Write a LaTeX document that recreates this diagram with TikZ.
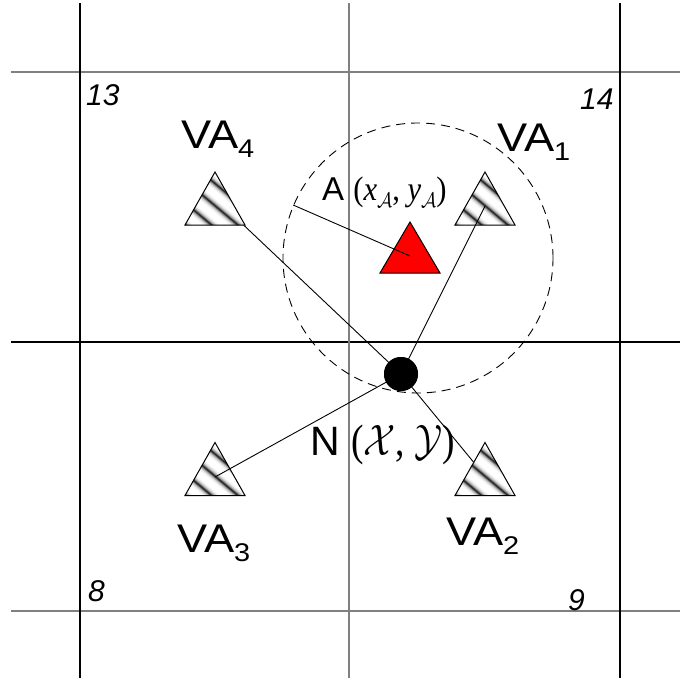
\RequirePackage{fix-cm}
\documentclass[tikz,border=0pt]{standalone}
\usepackage[no-math]{fontspec}
\setmainfont{Liberation Serif}
\setsansfont{Liberation Sans}
\newcommand\lowsub[1]{\raisebox{-0.24em}{\scalebox{0.64}{#1}}}
\newcommand\calsub[1]{\raisebox{-0.22em}{\scalebox{0.62}{$\mathcal{#1}$}}}
\tikzset{
  stripe/.style={line cap=butt},
  vatri/.pic={
    \fill[white] (0,-26.5) -- (30,26.5) -- (-30,26.5) -- cycle;
    \begin{scope}
      \clip (0,-26.5) -- (30,26.5) -- (-30,26.5) -- cycle;
      \foreach \d in {-28.5,-11.5,5.5,22.5,39.5}{
        \draw[stripe,line width=10pt,black!6] ({-0.643*\d-50},{0.766*\d-42}) -- ({-0.643*\d+50},{0.766*\d+42});
        \draw[stripe,line width=7pt,black!18] ({-0.643*\d-50},{0.766*\d-42}) -- ({-0.643*\d+50},{0.766*\d+42});
        \draw[stripe,line width=4.5pt,black!38] ({-0.643*\d-50},{0.766*\d-42}) -- ({-0.643*\d+50},{0.766*\d+42});
        \draw[stripe,line width=2.5pt,black!62] ({-0.643*\d-50},{0.766*\d-42}) -- ({-0.643*\d+50},{0.766*\d+42});
        \draw[stripe,line width=1pt,black!85] ({-0.643*\d-50},{0.766*\d-42}) -- ({-0.643*\d+50},{0.766*\d+42});
      }
    \end{scope}
    \draw[line width=1pt,line join=miter] (0,-26.5) -- (30,26.5) -- (-30,26.5) -- cycle;
  },
  redtri/.pic={
    \filldraw[fill=red,draw=black,line width=1pt,line join=miter] (0,-25.5) -- (30,25.5) -- (-30,25.5) -- cycle;
  }
}
\begin{document}
\begin{tikzpicture}[x=1pt,y=-1pt,
  gridblack/.style={line width=1.3pt,draw=black},
  gridgray/.style={line width=1.3pt,draw=black!50},
  conn/.style={line width=0.9pt},
  valabel/.style={font=\sffamily\fontsize{40}{40}\selectfont,inner sep=0pt,anchor=base west},
  numlabel/.style={font=\sffamily\itshape\fontsize{30}{30}\selectfont,inner sep=0pt,anchor=base west},
  ptlabel/.style={inner sep=0pt,anchor=base west}]
\useasboundingbox (0,0) rectangle (680,681);
\fill[white] (0,0) rectangle (680,681);
% grid
\draw[gridgray] (11,72) -- (680,72);
\draw[gridblack] (11,342) -- (680,342);
\draw[gridgray] (11,611) -- (680,611);
\draw[gridblack] (80,3) -- (80,678);
\draw[gridgray] (349,3) -- (349,678);
\draw[gridblack] (620,3) -- (620,678);
% cell numbers
\node[numlabel] (n13) at (86,105) {13};
\node[numlabel] (n14) at (580,109) {14};
\node[numlabel] (n8) at (88,601) {8};
\node[numlabel] (n9) at (568,610) {9};
% dashed range circle
\node[draw,circle,dash pattern=on 9pt off 6pt,line width=0.9pt,minimum size=270pt,inner sep=0pt] (range) at (418,258) {};
% target points
\coordinate (c4) at (215,198);
\coordinate (c2) at (485,476);
\coordinate (c1) at (485,206);
\coordinate (c3) at (215,477);
\coordinate (cA) at (410,256);
\node[circle,fill=black,minimum size=34pt,inner sep=0pt] (N) at (401,374) {};
% connectors under triangles
\draw[conn] (N.center) -- (c4);
\draw[conn] (N.center) -- (c2);
% triangles
\pic at (215,198.5) {vatri};
\pic at (485,198.5) {vatri};
\pic at (215,469) {vatri};
\pic at (485,469) {vatri};
\pic at (410,247.5) {redtri};
% connectors over triangles
\draw[conn] (N.center) -- (c1);
\draw[conn] (N.center) -- (c3);
\draw[conn] (range.157) -- (cA);
\node[circle,fill=black,minimum size=34pt,inner sep=0pt] at (N.center) {};
% labels
\node[valabel] (va4) at (181,148) {\scalebox{1.13}[1]{VA\lowsub{4}}};
\node[valabel] (va1) at (497,151) {\scalebox{1.13}[1]{VA\lowsub{1}}};
\node[valabel] (va3) at (177,552) {\scalebox{1.13}[1]{VA\lowsub{3}}};
\node[valabel] (va2) at (446,545) {\scalebox{1.13}[1]{VA\lowsub{2}}};
\node[ptlabel] (labA) at (322,200) {\sffamily\fontsize{33}{33}\selectfont A \rmfamily\fontsize{34}{34}\selectfont\scalebox{0.9}[1]{(\textit{x}\calsub{A}, \textit{y}\calsub{A})}};
\node[ptlabel] (labN) at (310,455) {\sffamily\fontsize{41}{41}\selectfont N \rmfamily\fontsize{44}{44}\selectfont\scalebox{0.85}[1]{($\mathcal{X}$, $\mathcal{Y}$)}};
\end{tikzpicture}
\end{document}
